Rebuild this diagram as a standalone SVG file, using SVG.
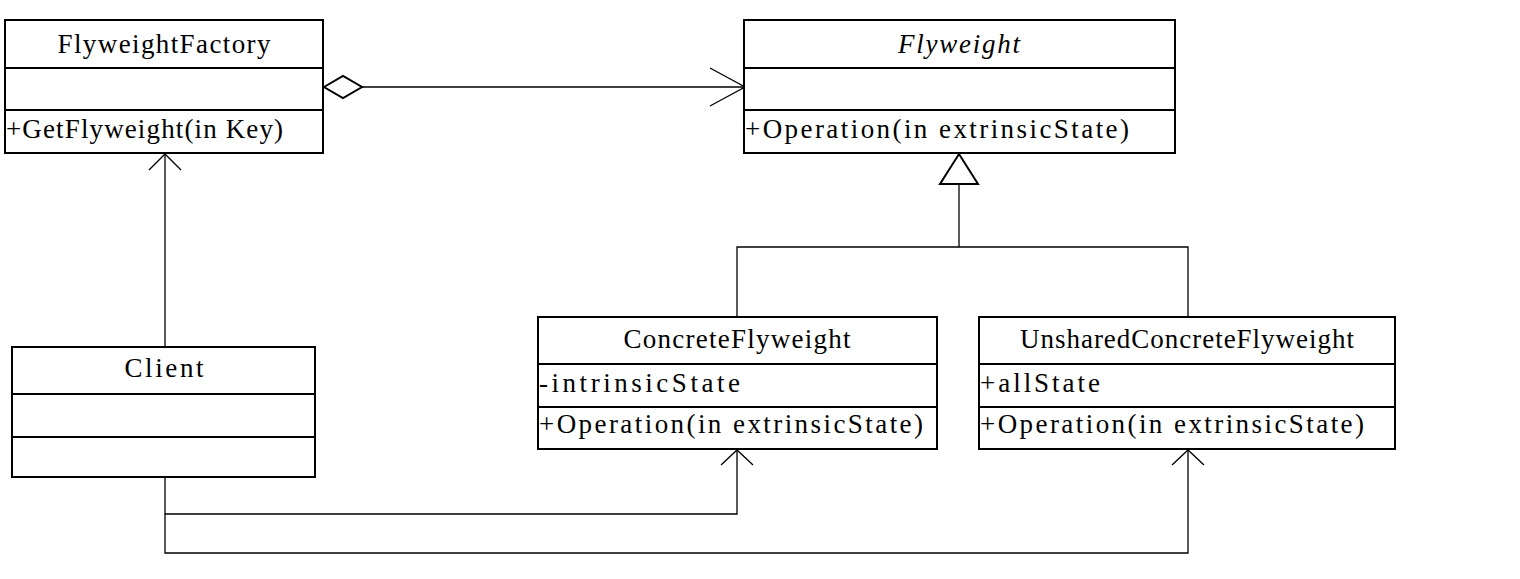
<svg xmlns="http://www.w3.org/2000/svg" width="1520" height="579" viewBox="0 0 1520 579">
<style>
.box{fill:#fff;stroke:#000;stroke-width:2}
.div{stroke:#000;stroke-width:2}
.t{font-family:"Liberation Serif","DejaVu Serif",serif;font-size:27px;fill:#000}
.m{font-family:"Liberation Serif","DejaVu Serif",serif;font-size:27px;fill:#000}
.c{text-anchor:middle}
.i{font-style:italic}
.ln{fill:none;stroke:#000;stroke-width:1.3}
</style>
<rect width="1520" height="579" fill="#fff"/>
<g id="connectors">
<line class="ln" x1="362" y1="87" x2="745" y2="87"/>
<polygon points="324,87 343,76 362,87 343,98" fill="#fff" stroke="#000" stroke-width="2"/>
<polyline class="ln" points="710,68 745,87 710,106" stroke-width="2"/>
<line class="ln" x1="165" y1="347" x2="165" y2="154"/>
<polyline class="ln" points="149,170 165,154 181,170" stroke-width="1.5"/>
<polyline class="ln" points="737,317 737,247 1188,247 1188,317"/>
<line class="ln" x1="959" y1="247" x2="959" y2="184"/>
<polygon points="959,154 978,184 940,184" fill="#fff" stroke="#000" stroke-width="2"/>
<polyline class="ln" points="165,477 165,514 737,514 737,450"/>
<polyline class="ln" points="721,465 737,450 753,465" stroke-width="1.5"/>
<polyline class="ln" points="165,514 165,553 1188,553 1188,450"/>
<polyline class="ln" points="1172,465 1188,450 1204,465" stroke-width="1.5"/>
</g>
<g id="FlyweightFactory">
<rect class="box" x="5" y="20" width="318" height="133"/>
<line class="div" x1="5" y1="68" x2="323" y2="68"/>
<line class="div" x1="5" y1="110" x2="323" y2="110"/>
<text class="t c" x="164" y="53" textLength="213" lengthAdjust="spacing">FlyweightFactory</text>
<text class="m" x="6" y="138" textLength="277" lengthAdjust="spacing">+GetFlyweight(in Key)</text>
</g>
<g id="Flyweight">
<rect class="box" x="744" y="20" width="431" height="133"/>
<line class="div" x1="744" y1="68" x2="1175" y2="68"/>
<line class="div" x1="744" y1="110" x2="1175" y2="110"/>
<text class="t c i" x="959" y="53" textLength="122" lengthAdjust="spacing">Flyweight</text>
<text class="m" x="745" y="138" textLength="384" lengthAdjust="spacing">+Operation(in extrinsicState)</text>
</g>
<g id="ConcreteFlyweight">
<rect class="box" x="538" y="317" width="399" height="132"/>
<line class="div" x1="538" y1="364" x2="937" y2="364"/>
<line class="div" x1="538" y1="407" x2="937" y2="407"/>
<text class="t c" x="737" y="348" textLength="227" lengthAdjust="spacing">ConcreteFlyweight</text>
<text class="m" x="539" y="392" textLength="201" lengthAdjust="spacing">-intrinsicState</text>
<text class="m" x="539" y="433" textLength="384" lengthAdjust="spacing">+Operation(in extrinsicState)</text>
</g>
<g id="UnsharedConcreteFlyweight">
<rect class="box" x="979" y="317" width="416" height="132"/>
<line class="div" x1="979" y1="364" x2="1395" y2="364"/>
<line class="div" x1="979" y1="407" x2="1395" y2="407"/>
<text class="t c" x="1187" y="348" textLength="334" lengthAdjust="spacing">UnsharedConcreteFlyweight</text>
<text class="m" x="980" y="392" textLength="120" lengthAdjust="spacing">+allState</text>
<text class="m" x="980" y="433" textLength="384" lengthAdjust="spacing">+Operation(in extrinsicState)</text>
</g>
<g id="Client">
<rect class="box" x="12" y="347" width="303" height="130"/>
<line class="div" x1="12" y1="394" x2="315" y2="394"/>
<line class="div" x1="12" y1="437" x2="315" y2="437"/>
<text class="t c" x="164" y="377" textLength="79" lengthAdjust="spacing">Client</text>
</g>
</svg>
